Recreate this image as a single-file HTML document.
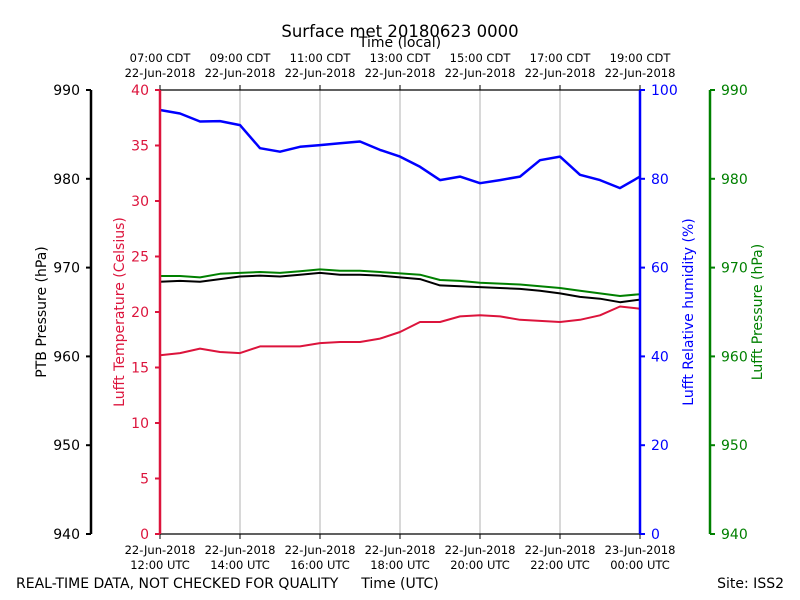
<!DOCTYPE html>
<html><head><meta charset="utf-8"><style>
body{margin:0;background:#fff}
svg{display:block;font-family:"DejaVu Sans","Liberation Sans",sans-serif}
</style></head><body>
<svg id="chart" width="800" height="600" viewBox="0 0 800 600" xmlns="http://www.w3.org/2000/svg">
<rect width="800" height="600" fill="#fff"/>
<text x="400" y="37" font-size="16.5" text-anchor="middle">Surface met 20180623 0000</text>
<text x="400" y="47" font-size="14" text-anchor="middle">Time (local)</text>
<g id="grid"></g>
<g id="series"></g>
<g id="axes"></g>
<text x="16" y="588" font-size="14">REAL-TIME DATA, NOT CHECKED FOR QUALITY</text>
<text x="400" y="588" font-size="14" text-anchor="middle">Time (UTC)</text>
<text x="784" y="588" font-size="14" text-anchor="end">Site: ISS2</text>
<text transform="translate(46,312) rotate(-90)" font-size="14" text-anchor="middle">PTB Pressure (hPa)</text>
<text transform="translate(124,312) rotate(-90)" font-size="14" text-anchor="middle" fill="#dc143c">Lufft Temperature (Celsius)</text>
<text transform="translate(693,312) rotate(-90)" font-size="14" text-anchor="middle" fill="#0000ff">Lufft Relative humidity (%)</text>
<text transform="translate(762,312) rotate(-90)" font-size="14" text-anchor="middle" fill="#008000">Lufft Pressure (hPa)</text>
</svg>
<script>
// hours after 12:00 UTC
const hours = [0,0.5,1,1.5,2,2.5,3,3.5,4,4.5,5,5.5,6,6.5,7,7.5,8,8.5,9,9.5,10,10.5,11,11.5,12];
const humidity = [95.5,94.7,92.9,93.0,92.1,86.9,86.1,87.2,87.6,88.0,88.4,86.5,85.0,82.7,79.7,80.5,79.0,79.7,80.5,84.2,85.0,80.9,79.7,77.9,80.5];
const temperature = [16.1,16.3,16.7,16.4,16.3,16.9,16.9,16.9,17.2,17.3,17.3,17.6,18.2,19.1,19.1,19.6,19.7,19.6,19.3,19.2,19.1,19.3,19.7,20.5,20.3];
const ptbPressure = [968.4,968.5,968.4,968.7,969.0,969.1,969.0,969.2,969.4,969.2,969.2,969.1,968.9,968.7,968.0,967.9,967.8,967.7,967.6,967.4,967.1,966.7,966.5,966.1,966.4];
const lufftPressure = [969.05,969.05,968.9,969.3,969.4,969.5,969.4,969.6,969.8,969.65,969.65,969.5,969.35,969.2,968.6,968.5,968.3,968.2,968.1,967.9,967.7,967.4,967.1,966.8,967.0];
const gridHours = [2,4,6,8,10];
const tickHours = [0,2,4,6,8,10,12];
const utcLabels = [["22-Jun-2018","12:00 UTC"],["22-Jun-2018","14:00 UTC"],["22-Jun-2018","16:00 UTC"],["22-Jun-2018","18:00 UTC"],["22-Jun-2018","20:00 UTC"],["22-Jun-2018","22:00 UTC"],["23-Jun-2018","00:00 UTC"]];
const localLabels = [["07:00 CDT","22-Jun-2018"],["09:00 CDT","22-Jun-2018"],["11:00 CDT","22-Jun-2018"],["13:00 CDT","22-Jun-2018"],["15:00 CDT","22-Jun-2018"],["17:00 CDT","22-Jun-2018"],["19:00 CDT","22-Jun-2018"]];
const pressureTicks = [940,950,960,970,980,990];
const tempTicks = [0,5,10,15,20,25,30,35,40];
const humTicks = [0,20,40,60,80,100];

const L=160,R=640,T=90,B=534;
const xS=h=>L+(h/12)*(R-L);
const yP=v=>B-(v-940)/50*(B-T);
const yT=v=>B-v/40*(B-T);
const yH=v=>B-v/100*(B-T);
const NS="http://www.w3.org/2000/svg";
function mk(tag,attrs,parent,txt){const e=document.createElementNS(NS,tag);for(const k in attrs)e.setAttribute(k,attrs[k]);if(txt!==undefined)e.textContent=txt;parent.appendChild(e);return e;}
const grid=document.getElementById('grid'),series=document.getElementById('series'),axes=document.getElementById('axes');
gridHours.forEach(h=>{const l=mk('line',{x1:xS(h),x2:xS(h),y1:T,y2:B,stroke:'#b0b0b0','stroke-width':1},grid);

});
function line(vals,sc,color,name,w){const d=vals.map((v,i)=>(i?'L':'M')+xS(hours[i]).toFixed(1)+' '+sc(v).toFixed(1)).join(' ');
const p=mk('path',{d:d,fill:'none',stroke:color,'stroke-width':w,'stroke-linejoin':'round'},series);

}
line(temperature,yT,'#dc143c','temperature-line',2);
line(lufftPressure,yP,'#008000','lufft-pressure-line',2);
line(ptbPressure,yP,'#000000','ptb-pressure-line',2);
line(humidity,yH,'#0000ff','humidity-line',2.5);
mk('line',{x1:L,x2:R,y1:T,y2:T,stroke:'#000','stroke-width':1.3},axes);
mk('line',{x1:L,x2:R,y1:B,y2:B,stroke:'#000','stroke-width':1.3},axes);
tickHours.forEach((h,i)=>{const x=xS(h);
mk('line',{x1:x,x2:x,y1:B,y2:B+5,stroke:'#000'},axes);
mk('line',{x1:x,x2:x,y1:T,y2:T-5,stroke:'#000'},axes);
const t1=mk('text',{x:x,y:554,'font-size':11.5,'text-anchor':'middle'},axes,utcLabels[i][0]);


mk('text',{x:x,y:569,'font-size':11.5,'text-anchor':'middle'},axes,utcLabels[i][1]);
const t2=mk('text',{x:x,y:62,'font-size':11.5,'text-anchor':'middle'},axes,localLabels[i][0]);


mk('text',{x:x,y:77,'font-size':11.5,'text-anchor':'middle'},axes,localLabels[i][1]);});
function yaxis(x,ticks,sc,color,side,name){
const s=mk('line',{x1:x,x2:x,y1:T,y2:B,stroke:color,'stroke-width':2.5},axes);


ticks.forEach(v=>{const y=sc(v);const d=side<0?-5:5;
mk('line',{x1:x,x2:x+d,y1:y,y2:y,stroke:color,'stroke-width':2},axes);
const t=mk('text',{x:x+d*2.2,y:y+5,'font-size':14,fill:color,'text-anchor':side<0?'end':'start'},axes,String(v));

});}
yaxis(91,pressureTicks,yP,'#000',-1,'ptb-pressure-axis');
yaxis(160,tempTicks,yT,'#dc143c',-1,'temperature-axis');
yaxis(640,humTicks,yH,'#0000ff',1,'humidity-axis');
yaxis(710,pressureTicks,yP,'#008000',1,'lufft-pressure-axis');
</script>
</body></html>
